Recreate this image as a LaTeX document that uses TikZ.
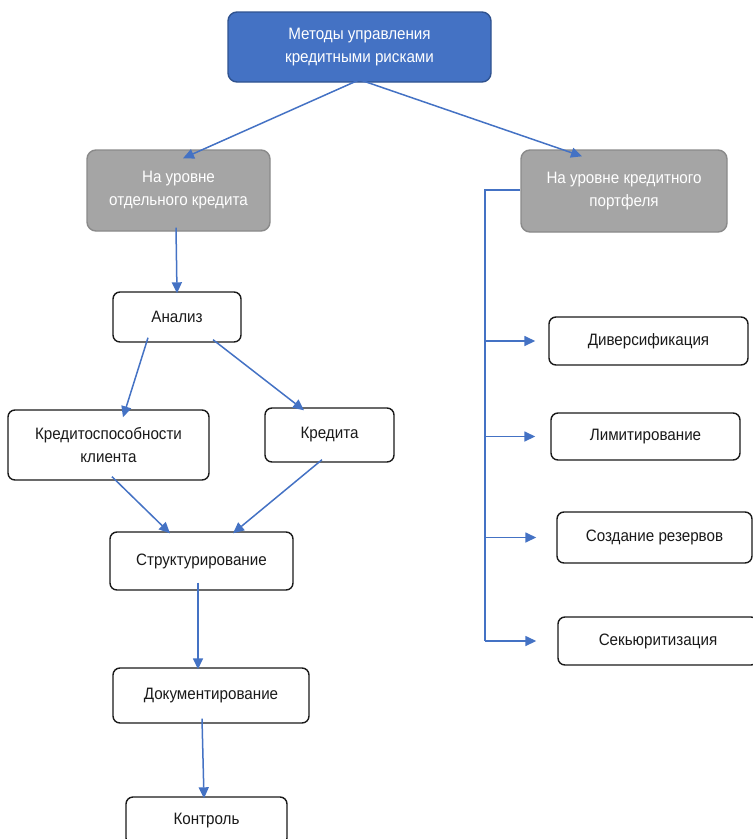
\documentclass[tikz,border=0pt]{standalone}
\usepackage{fontspec}
\setmainfont{Liberation Sans}[FakeStretch=0.92]
\usetikzlibrary{arrows.meta,positioning,calc}
\definecolor{Lead}{HTML}{4472C4}
\definecolor{LeadDark}{HTML}{2F528F}
\definecolor{Slate}{HTML}{A5A5A5}
\definecolor{SlateDark}{HTML}{8A8A8A}
\definecolor{Ink}{HTML}{1A1A1A}
\tikzset{
  >={Triangle[length=11pt,width=10pt]},
  box/.style={rectangle,rounded corners=7pt,draw=Ink,line width=1.4pt,fill=white,align=center,
    font=\fontsize{16.5}{23}\selectfont,inner sep=2pt,text=Ink},
  head/.style={box,fill=Lead,draw=LeadDark,text=white,rounded corners=9pt},
  level/.style={box,fill=Slate,draw=SlateDark,text=white,rounded corners=9pt},
  link/.style={->,draw=Lead,line width=1.5pt},
  bus/.style={draw=Lead,line width=1.5pt}
}
\begin{document}
\begin{tikzpicture}[x=1pt,y=-1pt]
  \useasboundingbox (0,0) rectangle (753,839);
  % top and the two levels
  \node[head,minimum width=263,minimum height=70] (top) at (359.5,47) {Методы управления\\кредитными рисками};
  \node[level,minimum width=183,minimum height=81] (single) at (178.5,190.5) {На уровне\\отдельного кредита};
  \node[level,minimum width=206,minimum height=82] (port) at (624,191) {На уровне кредитного\\портфеля};
  \draw[link] ([yshift=3]top.south) -- ([xshift=4.5,yshift=-9]single.north);
  \draw[link] ([yshift=3]top.south) -- ([xshift=-42,yshift=-7]port.north);
  % single credit branch
  \node[box,minimum width=128,minimum height=50] (an) at (177,317) {Анализ};
  \node[box,minimum width=201,minimum height=70] (kl) at (108.5,445) {Кредитоспособности\\клиента};
  \node[box,minimum width=129,minimum height=54] (kr) at (329.5,435) {Кредита};
  \node[box,minimum width=183,minimum height=58] (st) at (201.5,561) {Структурирование};
  \node[box,minimum width=196,minimum height=55] (doc) at (211,695.5) {Документирование};
  \node[box,minimum width=161,minimum height=48] (ctl) at (206.5,821) {Контроль};
  \draw[link] ([xshift=-2.5,yshift=4]single.south) -- ([yshift=-2]an.north);
  \draw[link] ([xshift=-29,yshift=5]an.south) -- ([xshift=14.5,yshift=-8]kl.north);
  \draw[link] ([xshift=36,yshift=3]an.south) -- ([xshift=-25.5,yshift=-3]kr.north);
  \draw[link] ([xshift=3.5,yshift=4]kl.south) -- ([xshift=-31.5,yshift=-2]st.north);
  \draw[link] ([xshift=-7.5,yshift=3]kr.south) -- ([xshift=31.5,yshift=-2]st.north);
  \draw[link] ([xshift=-3.5,yshift=8]st.south) -- ([xshift=-13,yshift=-2]doc.north);
  \draw[link] ([xshift=-9,yshift=5]doc.south) -- ([xshift=-2.5,yshift=-2]ctl.north);
  % portfolio branch
  \node[box,minimum width=199,minimum height=48] (div) at (648.5,341) {Диверсификация};
  \node[box,minimum width=189,minimum height=47] (lim) at (645.5,436.5) {Лимитирование};
  \node[box,minimum width=195,minimum height=51] (rez) at (654.5,537.5) {Создание резервов};
  \node[box,minimum width=200,minimum height=48] (sek) at (658,641) {Секьюритизация};
  \coordinate (bus) at (485,190);
  \draw[bus] (port.west |- bus) -- (bus) -- (bus |- sek.west);
  \foreach \n/\s in {div/13,lim/15,rez/20,sek/21}
    \draw[link,shorten >=\s] (bus |- \n.west) -- (\n.west);
\end{tikzpicture}
\end{document}
